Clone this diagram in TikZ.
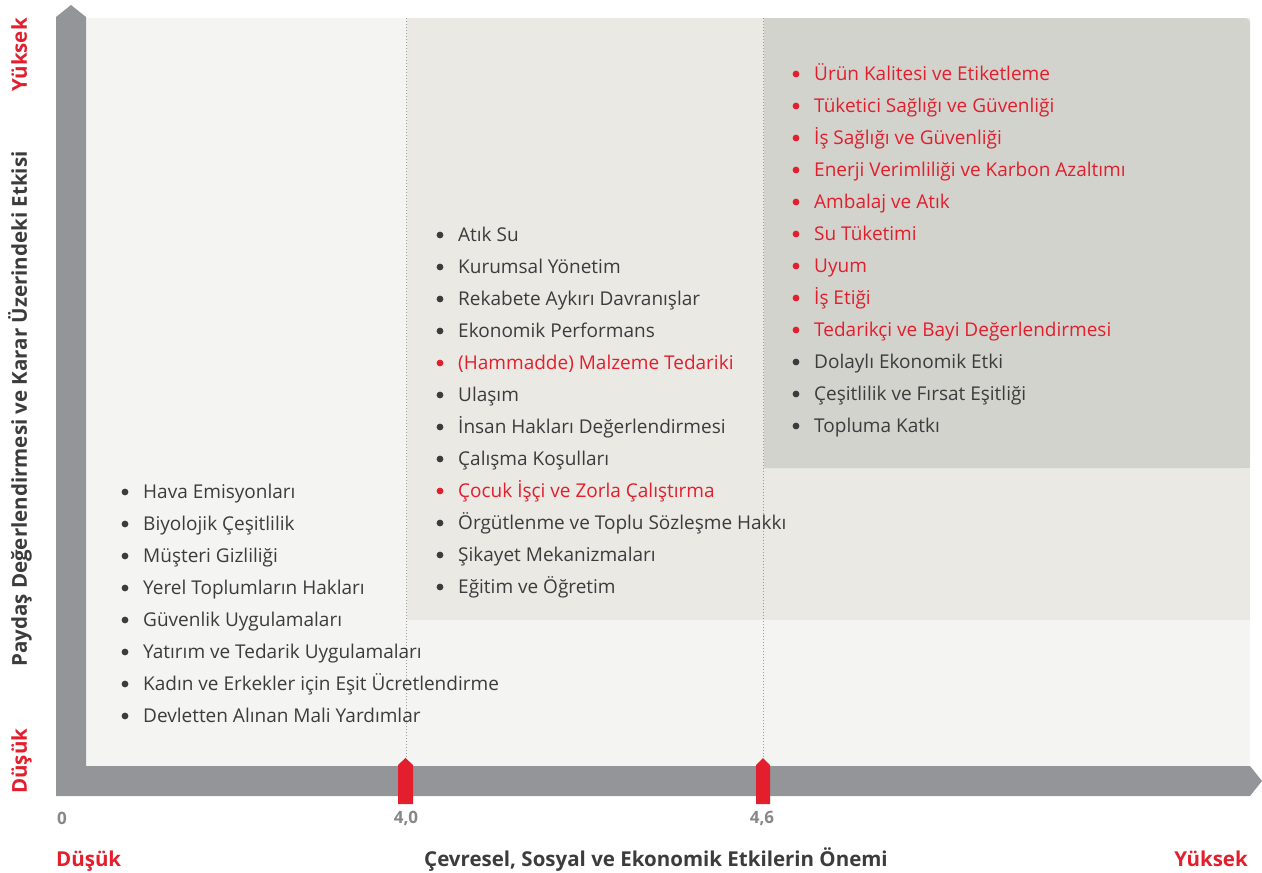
\documentclass[tikz,border=0pt]{standalone}
\usepackage{fontspec}
\setmainfont{Open Sans}
\usetikzlibrary{positioning}
\definecolor{axisgray}{HTML}{939598}
\definecolor{lowpanel}{HTML}{F4F4F2}
\definecolor{midpanel}{HTML}{EAE9E4}
\definecolor{highpanel}{HTML}{D2D3CD}
\definecolor{mred}{HTML}{E31E2D}
\definecolor{txt}{HTML}{3C3C3C}
\definecolor{numgray}{HTML}{878787}

\begin{document}
\begin{tikzpicture}[x=1pt,y=-1pt,
		item/.style={anchor=base west,inner sep=0pt,font=\fontsize{19}{19}\selectfont},
		axislabel/.style={inner sep=0pt,font=\bfseries\fontsize{20.5}{20.5}\selectfont},
		tick/.style={inner sep=0pt,text=numgray,font=\bfseries\fontsize{17}{17}\selectfont}]
		\useasboundingbox (0,0) rectangle (1262,873);
		% panels
		\fill[lowpanel] (86,18) rectangle (1250,766);
		\fill[midpanel] (407,18) rectangle (1250,620);
		\fill[highpanel,rounded corners=6pt] (764,18) rectangle (1250,468);
		\fill[highpanel] (764,18) rectangle (800,468);
		\fill[highpanel] (764,400) rectangle (1250,468);
		\draw[gray!80,line width=0.6pt,dash pattern=on 1pt off 2pt] (406.5,18) -- (406.5,766);
		\draw[gray!80,line width=0.6pt,dash pattern=on 1pt off 2pt] (763.5,18) -- (763.5,766);
		% axes
		\fill[axisgray] (56,796) -- (56,17) -- (71,5) -- (86,17) -- (86,766)
			-- (1250,766) -- (1262,781) -- (1250,796) -- cycle;
		\fill[mred] (398,804) -- (398,765) -- (405.5,758) -- (413,765) -- (413,804) -- cycle;
		\fill[mred] (756,804) -- (756,765) -- (763,758) -- (770,765) -- (770,804) -- cycle;
		% axis texts
		\node[tick] (t0) at (62,818) {0};
		\node[tick] (t40) at (406,818) {4,0};
		\node[tick] (t46) at (762,818) {4,6};
		\node[axislabel,text=mred,anchor=base west] (xlow) at (56,866) {Düşük};
		\node[axislabel,text=mred,anchor=base east] (xhigh) at (1248,866) {Yüksek};
		\node[axislabel,text=txt,anchor=base] (xtitle) at (656,866) {Çevresel, Sosyal ve Ekonomik Etkilerin Önemi};
		\node[axislabel,text=mred,anchor=base east,rotate=90] (yhigh) at (27,18) {Yüksek};
		\node[axislabel,text=mred,anchor=base west,rotate=90] (ylow) at (27,794) {Düşük};
		\node[axislabel,text=txt,anchor=base,rotate=90] (ytitle) at (27,409) {Paydaş Değerlendirmesi ve Karar Üzerindeki Etkisi};
		% low importance
		\foreach \t/\c [count=\i] in {Hava Emisyonları/txt,Biyolojik Çeşitlilik/txt,
			Müşteri Gizliliği/txt,Yerel Toplumların Hakları/txt,Güvenlik Uygulamaları/txt,
			Yatırım ve Tedarik Uygulamaları/txt,Kadın ve Erkekler için Eşit Ücretlendirme/txt,
			Devletten Alınan Mali Yardımlar/txt}
		{
			\node[item,text=\c] (low\i) at (143,{498+32*(\i-1)}) {\t};
			\fill[\c] ([xshift=-18pt,yshift=6pt]low\i.base west) circle (3.4pt);
		}
		% medium importance
		\foreach \t/\c [count=\i] in {Atık Su/txt,Kurumsal Yönetim/txt,
			Rekabete Aykırı Davranışlar/txt,Ekonomik Performans/txt,
			(Hammadde) Malzeme Tedariki/mred,Ulaşım/txt,İnsan Hakları Değerlendirmesi/txt,
			Çalışma Koşulları/txt,Çocuk İşçi ve Zorla Çalıştırma/mred,
			Örgütlenme ve Toplu Sözleşme Hakkı/txt,Şikayet Mekanizmaları/txt,
			Eğitim ve Öğretim/txt}
		{
			\node[item,text=\c] (mid\i) at (458,{241+32*(\i-1)}) {\t};
			\fill[\c] ([xshift=-18pt,yshift=6pt]mid\i.base west) circle (3.4pt);
		}
		% high importance
		\foreach \t/\c [count=\i] in {Ürün Kalitesi ve Etiketleme/mred,
			Tüketici Sağlığı ve Güvenliği/mred,İş Sağlığı ve Güvenliği/mred,
			Enerji Verimliliği ve Karbon Azaltımı/mred,Ambalaj ve Atık/mred,
			Su Tüketimi/mred,Uyum/mred,İş Etiği/mred,
			Tedarikçi ve Bayi Değerlendirmesi/mred,Dolaylı Ekonomik Etki/txt,
			Çeşitlilik ve Fırsat Eşitliği/txt,Topluma Katkı/txt}
		{
			\node[item,text=\c] (high\i) at (814,{80+32*(\i-1)}) {\t};
			\fill[\c] ([xshift=-18pt,yshift=6pt]high\i.base west) circle (3.4pt);
		}
	\end{tikzpicture}
\end{document}
